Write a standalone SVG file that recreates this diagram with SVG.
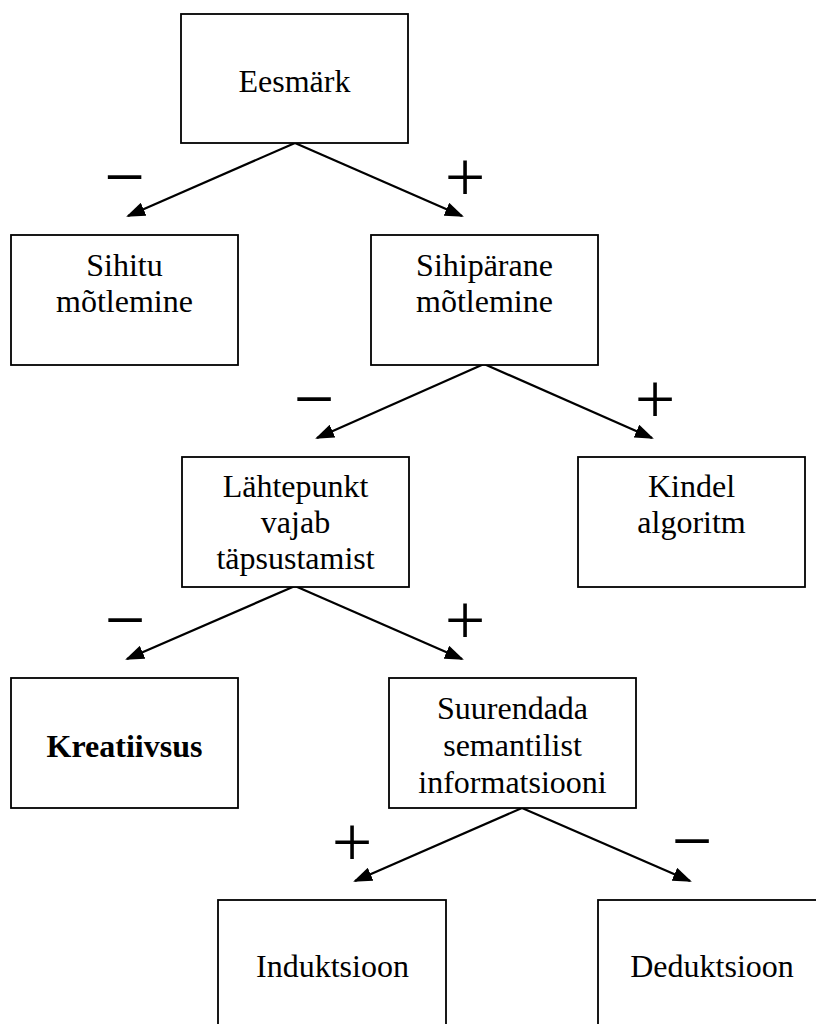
<svg xmlns="http://www.w3.org/2000/svg" width="816" height="1024" viewBox="0 0 816 1024">
<style>
.box{fill:#fff;stroke:#000;stroke-width:1.8}
.t{font-family:'Liberation Serif','Times New Roman',Tinos,'DejaVu Serif',serif;font-size:32px;text-anchor:middle;fill:#000}
.b{font-weight:bold}
.sg{font-family:'Liberation Serif','Times New Roman',Tinos,'DejaVu Serif',serif;font-size:72px;text-anchor:middle;fill:#000}
.c{stroke:#000;stroke-width:2.2;fill:none;marker-end:url(#ah)}
</style>
<defs>
<marker id="ah" markerUnits="userSpaceOnUse" markerWidth="19" markerHeight="14" refX="17" refY="7" orient="auto">
<path d="M0,0 L19,7 L0,14 z" fill="#000"/>
</marker>
</defs>
<g id="connectors">
<line class="c" x1="295" y1="143" x2="128" y2="216"/>
<line class="c" x1="295" y1="143" x2="462" y2="216"/>
<line class="c" x1="484" y1="364" x2="317" y2="438"/>
<line class="c" x1="484" y1="364" x2="652" y2="438"/>
<line class="c" x1="295" y1="586" x2="127" y2="659"/>
<line class="c" x1="295" y1="586" x2="462" y2="659"/>
<line class="c" x1="522" y1="808" x2="355" y2="881"/>
<line class="c" x1="522" y1="808" x2="690" y2="881"/>
<text class="sg" font-family="Liberation Serif, serif" x="124.5" y="201">−</text>
<text class="sg" font-family="Liberation Serif, serif" x="465" y="201">+</text>
<text class="sg" font-family="Liberation Serif, serif" x="314" y="423">−</text>
<text class="sg" font-family="Liberation Serif, serif" x="655" y="423">+</text>
<text class="sg" font-family="Liberation Serif, serif" x="125" y="644">−</text>
<text class="sg" font-family="Liberation Serif, serif" x="465" y="644">+</text>
<text class="sg" font-family="Liberation Serif, serif" x="352" y="866">+</text>
<text class="sg" font-family="Liberation Serif, serif" x="692" y="865">−</text>
</g>
<g id="n-eesmark" font-family="Liberation Serif, serif">
<rect class="box" x="181" y="14" width="227" height="129"/>
<text class="t" x="294.5" y="92">Eesmärk</text>
</g>
<g id="n-sihitu" font-family="Liberation Serif, serif">
<rect class="box" x="11" y="235" width="227" height="130"/>
<text class="t" x="124.5" y="276">Sihitu</text>
<text class="t" x="124.5" y="312">mõtlemine</text>
</g>
<g id="n-sihiparane" font-family="Liberation Serif, serif">
<rect class="box" x="371" y="235" width="227" height="130"/>
<text class="t" x="484.5" y="276">Sihipärane</text>
<text class="t" x="484.5" y="312">mõtlemine</text>
</g>
<g id="n-lahtepunkt" font-family="Liberation Serif, serif">
<rect class="box" x="182" y="457" width="227" height="130"/>
<text class="t" x="295.5" y="497">Lähtepunkt</text>
<text class="t" x="295.5" y="533">vajab</text>
<text class="t" x="295.5" y="569">täpsustamist</text>
</g>
<g id="n-kindel" font-family="Liberation Serif, serif">
<rect class="box" x="578" y="457" width="227" height="130"/>
<text class="t" x="691.5" y="497">Kindel</text>
<text class="t" x="691.5" y="533">algoritm</text>
</g>
<g id="n-kreatiivsus" font-family="Liberation Serif, serif">
<rect class="box" x="11" y="678" width="227" height="130"/>
<text class="t b" x="124.5" y="757">Kreatiivsus</text>
</g>
<g id="n-suurendada" font-family="Liberation Serif, serif">
<rect class="box" x="389" y="678" width="247" height="130"/>
<text class="t" x="512.5" y="719">Suurendada</text>
<text class="t" x="512.5" y="756">semantilist</text>
<text class="t" x="512.5" y="793">informatsiooni</text>
</g>
<g id="n-induktsioon" font-family="Liberation Serif, serif">
<rect class="box" x="218" y="900" width="228" height="130"/>
<text class="t" x="332.5" y="977">Induktsioon</text>
</g>
<g id="n-deduktsioon" font-family="Liberation Serif, serif">
<rect class="box" x="598" y="900" width="228" height="130"/>
<text class="t" x="712" y="977">Deduktsioon</text>
</g>
</svg>
